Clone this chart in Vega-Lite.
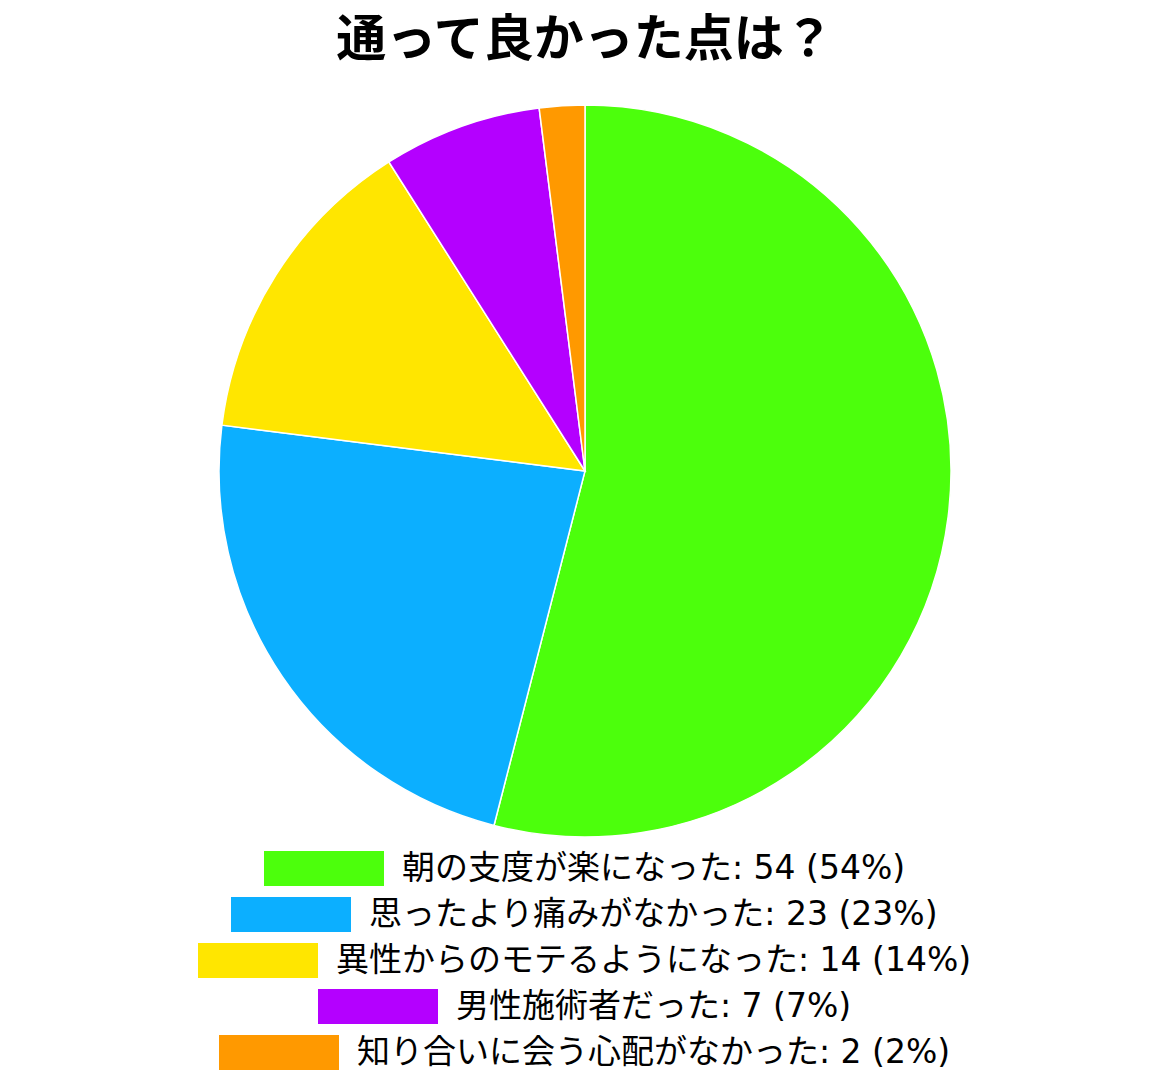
{
  "$schema": "https://vega.github.io/schema/vega-lite/v6.json",
  "width": 1170,
  "height": 732,
  "autosize": "none",
  "padding": {"left": 0, "right": 0, "top": 105, "bottom": 250},
  "background": "white",
  "title": {
    "text": "通って良かった点は？",
    "fontSize": 50,
    "font": "Noto Sans CJK JP",
    "fontWeight": "bold",
    "color": "#000000",
    "anchor": "middle",
    "offset": 36
  },
  "data": {
    "values": [
      {"order": 1, "item": "朝の支度が楽になった", "count": 54, "legend": "朝の支度が楽になった: 54 (54%)"},
      {"order": 2, "item": "思ったより痛みがなかった", "count": 23, "legend": "思ったより痛みがなかった: 23 (23%)"},
      {"order": 3, "item": "異性からのモテるようになった", "count": 14, "legend": "異性からのモテるようになった: 14 (14%)"},
      {"order": 4, "item": "男性施術者だった", "count": 7, "legend": "男性施術者だった: 7 (7%)"},
      {"order": 5, "item": "知り合いに会う心配がなかった", "count": 2, "legend": "知り合いに会う心配がなかった: 2 (2%)"}
    ]
  },
  "layer": [
    {
      "mark": {"type": "arc", "radius": 366, "stroke": "white", "strokeWidth": 1.5},
      "encoding": {
        "theta": {"field": "count", "type": "quantitative", "stack": true},
        "order": {"field": "order", "type": "quantitative", "sort": "ascending"},
        "color": {
          "field": "item",
          "type": "nominal",
          "scale": {
            "domain": ["朝の支度が楽になった", "思ったより痛みがなかった", "異性からのモテるようになった", "男性施術者だった", "知り合いに会う心配がなかった"],
            "range": ["#4cff0c", "#0cafff", "#ffe600", "#b400ff", "#ff9900"]
          },
          "legend": null
        }
      }
    },
    {
      "transform": [{"filter": "datum.order == 1"}],
      "mark": {"type": "arc", "radius": 1, "opacity": 0},
      "encoding": {
        "theta": {"field": "count", "type": "quantitative"},
        "color": {"field": "legend", "type": "nominal", "scale": {"range": ["#4cff0c"]}, "legend": {"title": null, "orient": "bottom"}}
      }
    },
    {
      "transform": [{"filter": "datum.order == 2"}],
      "mark": {"type": "arc", "radius": 1, "opacity": 0},
      "encoding": {
        "theta": {"field": "count", "type": "quantitative"},
        "color": {"field": "legend", "type": "nominal", "scale": {"range": ["#0cafff"]}, "legend": {"title": null, "orient": "bottom"}}
      }
    },
    {
      "transform": [{"filter": "datum.order == 3"}],
      "mark": {"type": "arc", "radius": 1, "opacity": 0},
      "encoding": {
        "theta": {"field": "count", "type": "quantitative"},
        "color": {"field": "legend", "type": "nominal", "scale": {"range": ["#ffe600"]}, "legend": {"title": null, "orient": "bottom"}}
      }
    },
    {
      "transform": [{"filter": "datum.order == 4"}],
      "mark": {"type": "arc", "radius": 1, "opacity": 0},
      "encoding": {
        "theta": {"field": "count", "type": "quantitative"},
        "color": {"field": "legend", "type": "nominal", "scale": {"range": ["#b400ff"]}, "legend": {"title": null, "orient": "bottom"}}
      }
    },
    {
      "transform": [{"filter": "datum.order == 5"}],
      "mark": {"type": "arc", "radius": 1, "opacity": 0},
      "encoding": {
        "theta": {"field": "count", "type": "quantitative"},
        "color": {"field": "legend", "type": "nominal", "scale": {"range": ["#ff9900"]}, "legend": {"title": null, "orient": "bottom"}}
      }
    }
  ],
  "resolve": {"scale": {"color": "independent", "theta": "independent"}, "legend": {"color": "independent"}},
  "config": {
    "view": {"stroke": null},
    "legend": {
      "direction": "vertical",
      "padding": 0,
      "offset": 14,
      "symbolType": "M-3.4286,-1H3.4286V1H-3.4286Z",
      "symbolSize": 1225,
      "symbolOffset": 42.5,
      "symbolStrokeWidth": 0,
      "symbolOpacity": 1,
      "labelFont": "DejaVu Sans, Noto Sans CJK JP",
      "labelFontSize": 33,
      "labelColor": "#000000",
      "labelOffset": 60.5,
      "labelLimit": 0,
      "layout": {"bottom": {"anchor": "middle", "direction": "vertical", "center": true, "margin": 11}}
    }
  }
}
